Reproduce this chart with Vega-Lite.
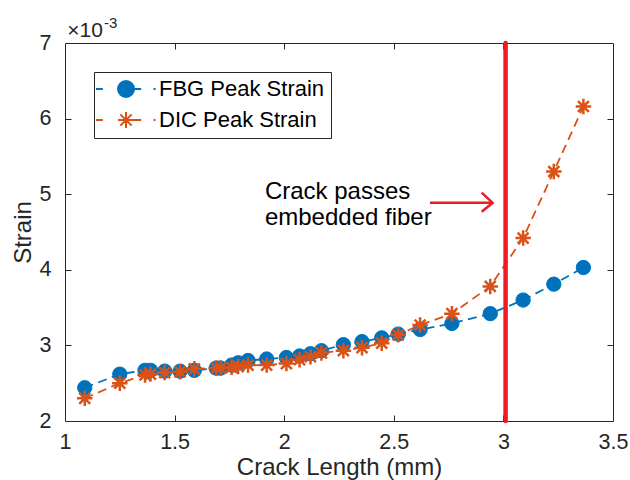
{
  "$schema": "https://vega.github.io/schema/vega-lite/v6.json",
  "width": 548,
  "height": 378,
  "autosize": {"type": "none"},
  "padding": {"left": 65, "top": 43, "right": 17, "bottom": 59},
  "background": "white",
  "config": {
    "font": "Liberation Sans",
    "view": {"stroke": "#262626", "strokeWidth": 1},
    "axis": {"grid": false, "domain": false, "tickColor": "#262626", "tickSize": 6, "tickWidth": 1, "labelColor": "#262626", "titleColor": "#262626", "labelFontSize": 21.5, "titleFontSize": 24, "titleFontWeight": "normal", "labelFlush": false, "labelOverlap": false, "labelBound": false}
  },
  "datasets": {
    "fbg": [
      {"crack": 1.09, "strain": 0.00244, "series": "FBG Peak Strain"},
      {"crack": 1.25, "strain": 0.00262, "series": "FBG Peak Strain"},
      {"crack": 1.365, "strain": 0.00267, "series": "FBG Peak Strain"},
      {"crack": 1.39, "strain": 0.00267, "series": "FBG Peak Strain"},
      {"crack": 1.455, "strain": 0.00266, "series": "FBG Peak Strain"},
      {"crack": 1.525, "strain": 0.00266, "series": "FBG Peak Strain"},
      {"crack": 1.59, "strain": 0.00267, "series": "FBG Peak Strain"},
      {"crack": 1.69, "strain": 0.0027, "series": "FBG Peak Strain"},
      {"crack": 1.71, "strain": 0.0027, "series": "FBG Peak Strain"},
      {"crack": 1.76, "strain": 0.00274, "series": "FBG Peak Strain"},
      {"crack": 1.79, "strain": 0.00277, "series": "FBG Peak Strain"},
      {"crack": 1.835, "strain": 0.0028, "series": "FBG Peak Strain"},
      {"crack": 1.92, "strain": 0.00282, "series": "FBG Peak Strain"},
      {"crack": 2.01, "strain": 0.00284, "series": "FBG Peak Strain"},
      {"crack": 2.07, "strain": 0.00286, "series": "FBG Peak Strain"},
      {"crack": 2.12, "strain": 0.00289, "series": "FBG Peak Strain"},
      {"crack": 2.17, "strain": 0.00293, "series": "FBG Peak Strain"},
      {"crack": 2.27, "strain": 0.00301, "series": "FBG Peak Strain"},
      {"crack": 2.355, "strain": 0.00305, "series": "FBG Peak Strain"},
      {"crack": 2.445, "strain": 0.0031, "series": "FBG Peak Strain"},
      {"crack": 2.52, "strain": 0.00315, "series": "FBG Peak Strain"},
      {"crack": 2.62, "strain": 0.00321, "series": "FBG Peak Strain"},
      {"crack": 2.765, "strain": 0.00329, "series": "FBG Peak Strain"},
      {"crack": 2.94, "strain": 0.00342, "series": "FBG Peak Strain"},
      {"crack": 3.09, "strain": 0.0036, "series": "FBG Peak Strain"},
      {"crack": 3.23, "strain": 0.00381, "series": "FBG Peak Strain"},
      {"crack": 3.365, "strain": 0.00403, "series": "FBG Peak Strain"}
    ],
    "dic": [
      {"crack": 1.09, "strain": 0.0023, "series": "DIC Peak Strain"},
      {"crack": 1.25, "strain": 0.0025, "series": "DIC Peak Strain"},
      {"crack": 1.365, "strain": 0.00261, "series": "DIC Peak Strain"},
      {"crack": 1.39, "strain": 0.00262, "series": "DIC Peak Strain"},
      {"crack": 1.455, "strain": 0.00264, "series": "DIC Peak Strain"},
      {"crack": 1.525, "strain": 0.00265, "series": "DIC Peak Strain"},
      {"crack": 1.59, "strain": 0.00269, "series": "DIC Peak Strain"},
      {"crack": 1.69, "strain": 0.0027, "series": "DIC Peak Strain"},
      {"crack": 1.71, "strain": 0.0027, "series": "DIC Peak Strain"},
      {"crack": 1.76, "strain": 0.00271, "series": "DIC Peak Strain"},
      {"crack": 1.79, "strain": 0.00272, "series": "DIC Peak Strain"},
      {"crack": 1.835, "strain": 0.00274, "series": "DIC Peak Strain"},
      {"crack": 1.92, "strain": 0.00274, "series": "DIC Peak Strain"},
      {"crack": 2.01, "strain": 0.00276, "series": "DIC Peak Strain"},
      {"crack": 2.07, "strain": 0.00281, "series": "DIC Peak Strain"},
      {"crack": 2.12, "strain": 0.00285, "series": "DIC Peak Strain"},
      {"crack": 2.17, "strain": 0.0029, "series": "DIC Peak Strain"},
      {"crack": 2.27, "strain": 0.00293, "series": "DIC Peak Strain"},
      {"crack": 2.355, "strain": 0.00297, "series": "DIC Peak Strain"},
      {"crack": 2.445, "strain": 0.00303, "series": "DIC Peak Strain"},
      {"crack": 2.52, "strain": 0.00314, "series": "DIC Peak Strain"},
      {"crack": 2.62, "strain": 0.00327, "series": "DIC Peak Strain"},
      {"crack": 2.765, "strain": 0.00342, "series": "DIC Peak Strain"},
      {"crack": 2.94, "strain": 0.00378, "series": "DIC Peak Strain"},
      {"crack": 3.09, "strain": 0.00442, "series": "DIC Peak Strain"},
      {"crack": 3.23, "strain": 0.0053, "series": "DIC Peak Strain"},
      {"crack": 3.365, "strain": 0.00616, "series": "DIC Peak Strain"}
    ],
    "marker": [{"crack": 3.01}],
    "arrow": [
      {"crack": 2.665, "strain": 0.004886, "part": "shaft", "o": 1},
      {"crack": 2.951, "strain": 0.004886, "part": "shaft", "o": 2},
      {"crack": 2.901, "strain": 0.00502, "part": "head", "o": 1},
      {"crack": 2.951, "strain": 0.004886, "part": "head", "o": 2},
      {"crack": 2.901, "strain": 0.004769, "part": "head", "o": 3}
    ],
    "note": [
      {"crack": 1.912, "strain": 0.005025, "label": "Crack passes"},
      {"crack": 1.912, "strain": 0.004681, "label": "embedded fiber"}
    ],
    "expo": [
      {"crack": 1.01, "strain": 0.00708, "label": "×10"}
    ],
    "expo2": [
      {"crack": 1.178, "strain": 0.0072, "label": "-3"}
    ],
    "dummy": [{"crack": 1, "strain": 0.002}]
  },
  "layer": [
    {
      "layer": [
        {
          "data": {"name": "fbg"},
          "mark": {"type": "line", "color": "#0072BD", "strokeWidth": 1.8, "strokeDash": [9, 5.5]},
          "encoding": {
            "x": {"field": "crack", "type": "quantitative", "scale": {"domain": [1, 3.5], "nice": false, "zero": false},
                  "axis": {"values": [1, 1.5, 2, 2.5, 3, 3.5], "labelExpr": "datum.value + ''", "title": "Crack Length (mm)", "ticks": false, "labelPadding": 10, "titlePadding": 3}},
            "y": {"field": "strain", "type": "quantitative", "scale": {"domain": [0.002, 0.007], "nice": false, "zero": false},
                  "axis": {"values": [0.002, 0.003, 0.004, 0.005, 0.006, 0.007], "labelExpr": "format(datum.value * 1000, '.0f')", "title": "Strain", "ticks": false, "labelPadding": 14, "titlePadding": 4}}
          }
        },
        {
          "data": {"name": "fbg"},
          "mark": {"type": "point", "shape": "circle", "filled": true, "color": "#0072BD", "size": 205, "opacity": 1, "stroke": "#0072BD", "strokeWidth": 1},
          "encoding": {
            "x": {"field": "crack", "type": "quantitative"},
            "y": {"field": "strain", "type": "quantitative"}
          }
        },
        {
          "data": {"name": "dic"},
          "mark": {"type": "line", "color": "#D95319", "strokeWidth": 1.8, "strokeDash": [9, 5.5]},
          "encoding": {
            "x": {"field": "crack", "type": "quantitative"},
            "y": {"field": "strain", "type": "quantitative"}
          }
        },
        {
          "data": {"name": "dic"},
          "mark": {"type": "point", "shape": "M-1,0L1,0M0,-1L0,1M-0.707,-0.707L0.707,0.707M-0.707,0.707L0.707,-0.707", "filled": false, "color": "#D95319", "size": 240, "strokeWidth": 2.5, "opacity": 1},
          "encoding": {
            "x": {"field": "crack", "type": "quantitative"},
            "y": {"field": "strain", "type": "quantitative"}
          }
        },
        {
          "data": {"name": "fbg"},
          "transform": [{"filter": "false"}],
          "mark": {"type": "point", "size": 256, "strokeWidth": 2, "opacity": 1},
          "encoding": {
            "x": {"field": "crack", "type": "quantitative"},
            "y": {"field": "strain", "type": "quantitative"},
            "fill": {
              "field": "series", "type": "nominal",
              "scale": {"domain": ["FBG Peak Strain", "DIC Peak Strain"], "range": ["#0072BD", "transparent"]},
              "legend": {
                "orient": "none", "legendX": 29, "legendY": 29, "title": null,
                "padding": 6, "strokeColor": "#262626", "fillColor": "white",
                "labelFontSize": 22, "labelColor": "#000000", "labelLimit": 400,
                "symbolSize": 256, "symbolStrokeWidth": 2, "symbolOffset": 15, "labelOffset": 22, "rowPadding": 7
              }
            },
            "stroke": {
              "field": "series", "type": "nominal",
              "scale": {"domain": ["FBG Peak Strain", "DIC Peak Strain"], "range": ["#0072BD", "#D95319"]},
              "legend": {
                "orient": "none", "legendX": 29, "legendY": 29, "title": null,
                "padding": 6, "strokeColor": "#262626", "fillColor": "white",
                "labelFontSize": 22, "labelColor": "#000000", "labelLimit": 400,
                "symbolSize": 256, "symbolStrokeWidth": 2, "symbolOffset": 15, "labelOffset": 22, "rowPadding": 7
              }
            },
            "shape": {
              "field": "series", "type": "nominal",
              "scale": {"domain": ["FBG Peak Strain", "DIC Peak Strain"], "range": [
                "M-3.75,0L-2.9,0M-0.9,0L1.9,0M3.45,0L3.7,0M-1,0A1,1,0,1,1,1,0A1,1,0,1,1,-1,0Z",
                "M-3.75,0L-2.9,0M-0.9,0L1.9,0M3.45,0L3.7,0M0,-1L0,1M-0.707,-0.707L0.707,0.707M-0.707,0.707L0.707,-0.707M-1,0L1,0"
              ]},
              "legend": {
                "orient": "none", "legendX": 29, "legendY": 29, "title": null,
                "padding": 6, "strokeColor": "#262626", "fillColor": "white",
                "labelFontSize": 22, "labelColor": "#000000", "labelLimit": 400,
                "symbolSize": 256, "symbolStrokeWidth": 2, "symbolOffset": 15, "labelOffset": 22, "rowPadding": 7
              }
            }
          }
        },
        {
          "data": {"name": "marker"},
          "mark": {"type": "rule", "color": "#ED1C24", "strokeWidth": 4.5, "strokeCap": "round"},
          "encoding": {"x": {"field": "crack", "type": "quantitative"}}
        },
        {
          "data": {"name": "arrow"},
          "mark": {"type": "line", "color": "#ED1C24", "strokeWidth": 2.5},
          "encoding": {
            "x": {"field": "crack", "type": "quantitative"},
            "y": {"field": "strain", "type": "quantitative"},
            "detail": {"field": "part"},
            "order": {"field": "o"}
          }
        },
        {
          "data": {"name": "note"},
          "mark": {"type": "text", "align": "left", "baseline": "middle", "fontSize": 24, "color": "#000000"},
          "encoding": {
            "x": {"field": "crack", "type": "quantitative"},
            "y": {"field": "strain", "type": "quantitative"},
            "text": {"field": "label"}
          }
        },
        {
          "data": {"name": "expo"},
          "mark": {"type": "text", "align": "left", "baseline": "alphabetic", "fontSize": 21, "color": "#262626"},
          "encoding": {
            "x": {"field": "crack", "type": "quantitative"},
            "y": {"field": "strain", "type": "quantitative"},
            "text": {"field": "label"}
          }
        },
        {
          "data": {"name": "expo2"},
          "mark": {"type": "text", "align": "left", "baseline": "alphabetic", "fontSize": 15, "color": "#262626"},
          "encoding": {
            "x": {"field": "crack", "type": "quantitative"},
            "y": {"field": "strain", "type": "quantitative"},
            "text": {"field": "label"}
          }
        }
      ]
    },
    {
      "data": {"name": "dummy"},
      "mark": {"type": "point", "opacity": 0, "size": 0},
      "encoding": {
        "x": {"field": "crack", "type": "quantitative", "scale": {"domain": [1, 3.5], "nice": false, "zero": false},
              "axis": {"orient": "top", "offset": -6, "values": [1.5, 2, 2.5, 3], "labels": false, "title": null}},
        "y": {"field": "strain", "type": "quantitative", "scale": {"domain": [0.002, 0.007], "nice": false, "zero": false},
              "axis": {"orient": "right", "offset": -6, "values": [0.003, 0.004, 0.005, 0.006], "labels": false, "title": null}}
      }
    },
    {
      "data": {"name": "dummy"},
      "mark": {"type": "point", "opacity": 0, "size": 0},
      "encoding": {
        "x": {"field": "crack", "type": "quantitative", "scale": {"domain": [1, 3.5], "nice": false, "zero": false},
              "axis": {"orient": "bottom", "offset": -6, "values": [1.5, 2, 2.5, 3], "labels": false, "title": null}},
        "y": {"field": "strain", "type": "quantitative", "scale": {"domain": [0.002, 0.007], "nice": false, "zero": false},
              "axis": {"orient": "left", "offset": -6, "values": [0.003, 0.004, 0.005, 0.006], "labels": false, "title": null}}
      }
    }
  ],
  "resolve": {"scale": {"x": "independent", "y": "independent"}}
}
